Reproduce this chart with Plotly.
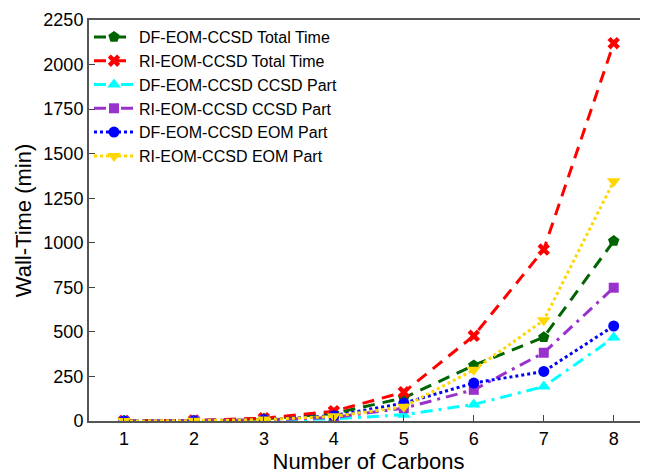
import plotly.graph_objects as go

carbons = [1, 2, 3, 4, 5, 6, 7, 8]
df_total = [0.5, 2, 12, 42, 130, 312, 470, 1010]
ri_total = [0.6, 3, 16, 55, 162, 478, 962, 2120]
df_ccsd = [0.2, 1, 4, 12, 35, 93, 193, 468]
ri_ccsd = [0.3, 1.5, 6, 20, 72, 175, 383, 748]
df_eom = [0.3, 1, 8, 30, 100, 213, 278, 533]
ri_eom = [0.3, 1.5, 8, 26, 80, 287, 565, 1345]
yticks = [0, 250, 500, 750, 1000, 1250, 1500, 1750, 2000, 2250]

series = [
    ("DF-EOM-CCSD Total Time", df_total, "#006400", "12px,8px", "pentagon", 12),
    ("RI-EOM-CCSD Total Time", ri_total, "#FF0000", "12px,8px", "x", 11),
    ("DF-EOM-CCSD CCSD Part", df_ccsd, "#00FFFF", "12px,6px,3px,6px", "triangle-up", 12),
    ("RI-EOM-CCSD CCSD Part", ri_ccsd, "#9932CC", "12px,6px,3px,6px", "square", 10),
    ("DF-EOM-CCSD EOM Part", df_eom, "#0000FF", "3px,3px", "circle", 11),
    ("RI-EOM-CCSD EOM Part", ri_eom, "#FFD700", "3px,3px", "triangle-down", 12),
]

fig = go.Figure()
for name, vals, color, dash, sym, size in series:
    fig.add_trace(go.Scatter(
        x=carbons, y=vals, name=name, mode="lines+markers",
        line=dict(color=color, width=3, dash=dash),
        marker=dict(color=color, symbol=sym, size=size, line=dict(width=0)),
    ))

font = "Liberation Sans, Arial, sans-serif"
fig.update_layout(
    width=640, height=467,
    margin=dict(l=81, r=0, t=12, b=54),
    paper_bgcolor="white", plot_bgcolor="white",
    font=dict(family=font, size=18, color="black"),
    showlegend=True,
    legend=dict(x=0.0, y=1.0, xanchor="left", yanchor="top",
                bgcolor="rgba(255,255,255,0)", font=dict(size=16),
                tracegroupgap=0, itemwidth=40),
    xaxis=dict(range=[0.5, 8.49], tickvals=carbons, ticks="inside", ticklen=6,
               showline=True, linecolor="#555555", linewidth=2, mirror=True,
               showgrid=False, zeroline=False, automargin=False,
               title=dict(text="Number of Carbons", standoff=4)),
    yaxis=dict(range=[0, 2250], tickvals=yticks, ticks="inside", ticklen=6,
               showline=True, linecolor="#555555", linewidth=2, mirror=False,
               showgrid=False, zeroline=False, automargin=False,
               title=dict(text="Wall-Time (min)", standoff=6)),
)
fig.write_html("out.html")
